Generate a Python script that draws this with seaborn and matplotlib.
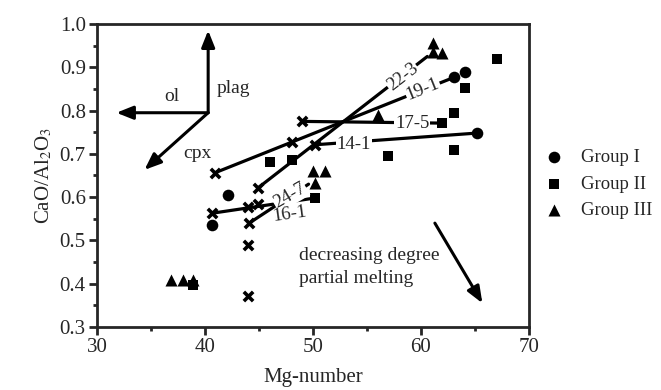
"""CaO/Al2O3 vs Mg-number scatter with fractionation vectors."""
import matplotlib
matplotlib.use("Agg")
import matplotlib.pyplot as plt
import numpy as np
import seaborn as sns
from matplotlib.ticker import MultipleLocator

# data
group_i_x = [40.7, 42.1, 63.1, 64.1, 65.2]
group_i_y = [0.536, 0.605, 0.877, 0.889, 0.748]

group_ii_x = [38.9, 46.0, 48.1, 50.2, 57.0, 62.0, 63.1, 63.1, 64.1, 67.1]
group_ii_y = [0.397, 0.681, 0.686, 0.598, 0.694, 0.771, 0.794, 0.709, 0.852, 0.919]

group_iii_x = [36.9, 38.0, 38.9, 50.0, 51.1, 50.2, 56.0, 61.1, 61.1, 62.0]
group_iii_y = [0.409, 0.409, 0.409, 0.660, 0.660, 0.633, 0.790, 0.956, 0.935, 0.933]

cross_x = [40.9, 48.1, 49.0, 44.9, 50.2, 44.1, 44.0, 44.9, 40.7, 44.0, 44.0]
cross_y = [0.656, 0.727, 0.775, 0.621, 0.721, 0.540, 0.578, 0.585, 0.563, 0.489, 0.372]

# sample trends: name, (x0, x1), (y0, y1)
trend_names = ["22-3", "19-1", "17-5", "14-1", "24-7", "16-1"]
trend_x = [(44.9, 60.6), (40.9, 63.1), (49.0, 62.0), (50.2, 65.2), (44.1, 49.6), (40.7, 50.2)]
trend_y = [(0.621, 0.925), (0.656, 0.877), (0.775, 0.771), (0.721, 0.748), (0.540, 0.630), (0.563, 0.598)]
trend_label_xy = [(58.3, 0.878), (60.2, 0.848), (59.2, 0.771), (53.8, 0.722), (47.9, 0.603), (47.9, 0.560)]
trend_label_rot = [38, 22, 0, 0, 30, 8]

sns.set_style("ticks")
plt.rcParams["font.family"] = ["Liberation Serif", "DejaVu Serif"]
plt.rcParams["mathtext.fontset"] = "stix"

fig, ax = plt.subplots(figsize=(6.61, 3.90), dpi=100)
fig.subplots_adjust(left=0.1467, right=0.800, bottom=0.1615, top=0.9385)

for name, xs, ys in zip(trend_names, trend_x, trend_y):
    ax.plot(xs, ys, color="black", lw=2.3, solid_capstyle="round", zorder=2)

sns.scatterplot(x=group_i_x, y=group_i_y, marker="o", s=70, color="black",
                linewidth=0, label="Group I", ax=ax, zorder=3)
sns.scatterplot(x=group_ii_x, y=group_ii_y, marker="s", s=55, color="black",
                linewidth=0, label="Group II", ax=ax, zorder=3)
sns.scatterplot(x=group_iii_x, y=group_iii_y, marker="^", s=75, color="black",
                linewidth=0, label="Group III", ax=ax, zorder=3)
ax.scatter(cross_x, cross_y, marker="x", s=45, color="black", linewidths=2.6, zorder=3)

for name, (lx, ly), rot in zip(trend_names, trend_label_xy, trend_label_rot):
    box = None if name == "16-1" else dict(facecolor="white", edgecolor="none", pad=0.5)
    ax.text(lx, ly, name, fontsize=13.5, rotation=rot, rotation_mode="anchor",
            ha="center", va="center", bbox=box, zorder=4)

# mineral vectors
arrow = dict(arrowstyle="-|>,head_length=1.0,head_width=0.4", color="black", lw=2.2,
             shrinkA=0, shrinkB=0)
origin = (40.3, 0.795)
for tip in [(40.3, 0.985), (31.8, 0.795), (34.4, 0.663)]:
    ax.annotate("", xy=tip, xytext=origin, arrowprops=arrow)
ax.text(36.9, 0.832, "ol", fontsize=14, ha="center", va="center")
ax.text(42.6, 0.850, "plag", fontsize=14, ha="center", va="center")
ax.text(39.3, 0.700, "cpx", fontsize=14, ha="center", va="center")

ax.annotate("", xy=(65.7, 0.355), xytext=(61.3, 0.540), arrowprops=arrow)
ax.text(48.7, 0.466, "decreasing degree", fontsize=14, ha="left", va="center")
ax.text(48.7, 0.413, "partial melting", fontsize=14, ha="left", va="center")

ax.set_xlim(30, 70)
ax.set_ylim(0.3, 1.0)
ax.xaxis.set_major_locator(MultipleLocator(10))
ax.xaxis.set_minor_locator(MultipleLocator(5))
ax.yaxis.set_major_locator(MultipleLocator(0.1))
ax.yaxis.set_minor_locator(MultipleLocator(0.05))
ax.tick_params(which="major", direction="out", length=6, width=2, labelsize=15, pad=2)
ax.tick_params(which="minor", direction="out", length=3, width=2)
ax.set_xlabel("Mg-number", fontsize=15, labelpad=8)
ax.set_ylabel("CaO/Al$_2$O$_3$", fontsize=15, labelpad=4)
for side in ["top", "right", "left", "bottom"]:
    ax.spines[side].set_visible(True)
    ax.spines[side].set_linewidth(2)

handles, labels = ax.get_legend_handles_labels()
ax.legend(handles, labels, loc="center left", bbox_to_anchor=(1.02, 0.472),
          frameon=False, fontsize=13.5, handlelength=1.0, handletextpad=0.9,
          labelspacing=0.5, borderaxespad=0)

fig.savefig("out.png", dpi=100)
